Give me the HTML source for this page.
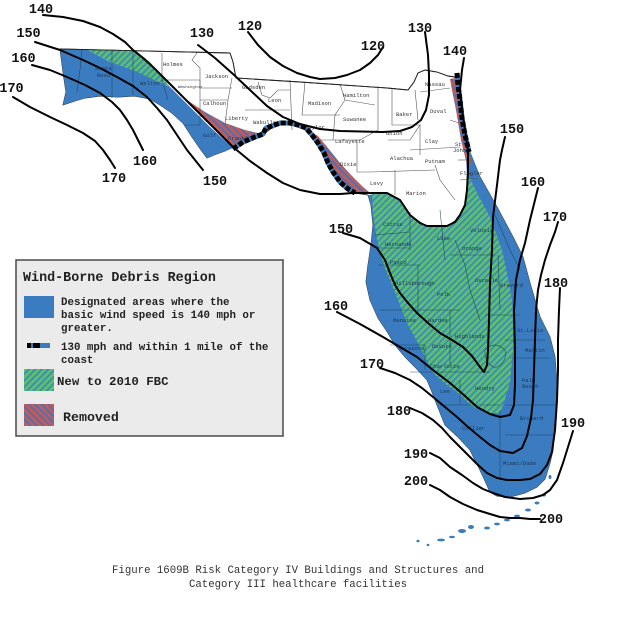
<!DOCTYPE html>
<html><head><meta charset="utf-8"><style>
html,body{margin:0;padding:0;background:#fff;}
svg{display:block;}
.lbl{font-family:"Liberation Mono",monospace;font-weight:bold;font-size:13.5px;fill:#111;}
.cty{font-family:"Liberation Mono",monospace;font-size:5.5px;fill:#333;}
.ctb{font-family:"Liberation Mono",monospace;font-size:5.5px;fill:#1d3550;}
.lg{font-family:"Liberation Mono",monospace;font-weight:bold;fill:#222;}
.cap{font-family:"Liberation Mono",monospace;font-size:10.7px;fill:#333;}
</style></head><body>
<svg width="623" height="625" viewBox="0 0 623 625" xmlns="http://www.w3.org/2000/svg">
<defs>
<pattern id="gh" patternUnits="userSpaceOnUse" width="4.6" height="4.6" patternTransform="rotate(45)">
<rect width="4.6" height="4.6" fill="#5ec268"/><rect width="2" height="4.6" fill="#3f8cb6"/></pattern>
<pattern id="rh" patternUnits="userSpaceOnUse" width="4.6" height="4.6" patternTransform="rotate(-45)">
<rect width="4.6" height="4.6" fill="#d2574c"/><rect width="2.3" height="4.6" fill="#5a6ea8"/></pattern>
</defs>
<rect width="623" height="625" fill="#fff"/>

<!-- Florida outline -->
<path d="M60,49 L230,53 L233,62 L236,78 L300,82 L387,88 L408,90 L414,82 L418,73 L425,70 L437,72 L448,76 L455,77 L458,95 L463,125 L469,150 L480,177 L497,207 L513,237 L523,257 L530,283 L540,317 L550,337 L555,357 L557,383 L556,400 L555,417 L553,450 L550,463 L545,479 L537,487 L525,493 L510,497 L497,496 L490,492 L486,483 L480,470 L470,450 L458,437 L445,425 L437,405 L432,392 L427,380 L415,367 L405,357 L395,345 L388,333 L378,318 L370,300 L366,282 L368,265 L371,245 L373,225 L371,205 L368,195 L355,193 L345,184 L335,170 L327,155 L318,141 L308,129 L297,125 L284,123 L274,126 L268,131 L258,136 L247,141 L236,146 L225,151 L214,155 L207,158 L201,150 L192,137 L183,123 L172,113 L160,105 L150,99 L135,96 L118,97 L100,96 L85,98 L75,101 L63,105 L66,92 L63,72 Z" fill="#fff" stroke="#333" stroke-width="0.9"/>

<!-- Blue panhandle -->
<path d="M60,49 L88,50 L110,62 L135,70 L155,80 L170,87 L190,107 L210,127 L233,148 L225,151 L214,155 L207,158 L201,150 L192,137 L183,123 L172,113 L160,105 L150,99 L135,96 L118,97 L100,96 L85,98 L75,101 L63,105 L66,92 L63,72 Z" fill="#3b7cc0"/>
<!-- Blue peninsula -->
<path d="M368,195 L387,193 L400,200 L410,215 L427,226 L447,226 L460,217 L466,200 L467,175 L466,160 L470,152 L480,177 L497,207 L513,237 L523,257 L530,283 L540,317 L550,337 L555,357 L557,383 L556,400 L555,417 L553,450 L550,463 L545,479 L537,487 L525,493 L510,497 L497,496 L490,492 L486,483 L480,470 L470,450 L458,437 L445,425 L437,405 L432,392 L427,380 L415,367 L405,357 L395,345 L388,333 L378,318 L370,300 L366,282 L368,265 L371,245 L373,225 L371,205 Z" fill="#3b7cc0"/>

<!-- Green -->
<path d="M88,50 L135,50 L150,62 L170,87 L155,80 L135,71 L110,62 Z" fill="url(#gh)"/>
<path d="M372,193 L387,193 L400,200 L410,215 L427,226 L447,226 L460,217 L466,200 L467,182 L470,178 L478,195 L490,217 L502,250 L507,273 L512,300 L513,327 L513,350 L510,383 L503,405 L500,413 L490,413 L473,407 L457,392 L447,385 L433,373 L420,347 L407,323 L398,300 L390,280 L383,263 L377,240 L373,213 Z" fill="url(#gh)"/>

<!-- Red -->
<path d="M187,100 L205,112 L225,123 L245,130 L262,134 L258,137 L247,141 L236,146 L233,148 L215,129 L200,114 Z" fill="url(#rh)"/>
<path d="M310,131 L318,136 L328,148 L340,163 L352,176 L362,186 L370,193 L355,193 L348,189 L340,182 L333,172 L328,163 L322,150 L314,138 Z" fill="url(#rh)"/>
<path d="M450,79 L456,78 L460,100 L464,125 L469,150 L472,165 L467,165 L461,140 L456,110 L452,90 Z" fill="url(#rh)"/>

<!-- County lines (white area) -->
<g fill="none" stroke="#555" stroke-width="0.6">
<path d="M162,53 L162,80 L200,80 L200,100"/>
<path d="M197,53 L192,60 L200,68 L200,88 L232,88"/>
<path d="M232,78 L228,100 L225,125"/>
<path d="M200,100 L228,100"/>
<path d="M258,82 L262,95 L270,98 L278,90 L290,90"/>
<path d="M245,110 L290,110"/>
<path d="M290,80 L292,130"/>
<path d="M305,82 L302,115 L340,115"/>
<path d="M340,84 L345,100 L335,115 L333,140 L315,140"/>
<path d="M345,100 L375,105"/>
<path d="M378,86 L378,130 L360,140 L333,140"/>
<path d="M392,88 L392,125 L420,125"/>
<path d="M415,90 L418,120"/>
<path d="M420,92 L450,88"/>
<path d="M388,140 L410,140 L420,125 L420,155"/>
<path d="M410,150 L460,147"/>
<path d="M450,120 L465,125"/>
<path d="M357,140 L357,172 L370,172 L435,170"/>
<path d="M395,170 L395,195"/>
<path d="M435,165 L440,180 L455,200"/>
<path d="M458,160 L472,160"/>
<path d="M460,180 L478,178"/>
</g>
<!-- County lines (colored area) -->
<g fill="none" stroke="#1f3f55" stroke-width="0.6" opacity="0.85">
<path d="M82,50 L80,70 L77,92"/>
<path d="M112,50 L112,98"/>
<path d="M133,51 L133,95"/>
<path d="M162,80 L168,100"/>
<path d="M200,100 L200,125 L185,125"/>
<path d="M375,235 L410,232"/>
<path d="M410,212 L410,250"/>
<path d="M440,210 L445,260"/>
<path d="M377,248 L410,248"/>
<path d="M378,265 L420,265"/>
<path d="M418,265 L418,315"/>
<path d="M455,240 L465,265 L470,290 L480,320"/>
<path d="M450,255 L495,255"/>
<path d="M498,255 L500,310"/>
<path d="M380,310 L460,310"/>
<path d="M450,310 L450,365"/>
<path d="M390,345 L425,345 L425,370"/>
<path d="M410,372 L490,372"/>
<path d="M485,315 L520,315"/>
<path d="M505,340 L545,340"/>
<path d="M510,358 L550,358"/>
<path d="M505,405 L555,405"/>
<path d="M505,435 L553,435"/>
<path d="M500,410 L500,480"/>
<path d="M440,405 L500,405"/>
<path d="M460,380 L460,405"/>
<path d="M485,350 Q495,340 505,350 Q508,362 495,368 Q484,362 485,350 Z"/>
<path d="M495,215 L510,250 L520,270"/>
</g>

<!-- county labels -->
<g class="cty">
<text x="163" y="66">Holmes</text><text x="205" y="78">Jackson</text><text x="178" y="88" font-size="4">Washington</text>
<text x="203" y="105">Calhoun</text><text x="225" y="120">Liberty</text><text x="242" y="89">Gadsden</text>
<text x="268" y="102">Leon</text><text x="253" y="124">Wakulla</text><text x="308" y="105">Madison</text>
<text x="305" y="129">Taylor</text><text x="343" y="97">Hamilton</text><text x="343" y="121">Suwanee</text>
<text x="335" y="143">Lafayette</text><text x="396" y="116">Baker</text><text x="425" y="86">Nassau</text>
<text x="430" y="113">Duval</text><text x="386" y="135">Union</text><text x="425" y="143">Clay</text>
<text x="455" y="146">St</text><text x="453" y="152">Johns</text><text x="390" y="160">Alachua</text>
<text x="425" y="163">Putnam</text><text x="340" y="166">Dixie</text><text x="370" y="185">Levy</text>
<text x="406" y="195">Marion</text><text x="460" y="175">Flagler</text>
</g>
<g class="ctb">
<text x="95" y="70">Santa</text><text x="97" y="77">Rosa</text><text x="140" y="85">Walton</text>
<text x="203" y="137">Gulf</text><text x="228" y="140">Franklin</text>
<text x="383" y="226">Citrus</text><text x="437" y="240">Lake</text><text x="470" y="232">Volusia</text>
<text x="462" y="250">Orange</text><text x="385" y="246">Hernando</text><text x="390" y="264">Pasco</text>
<text x="395" y="285">Hillsborough</text><text x="437" y="296">Polk</text><text x="475" y="282">Osceola</text>
<text x="500" y="287">Brevard</text><text x="393" y="322">Manatee</text><text x="428" y="322">Hardee</text>
<text x="455" y="338">Highlands</text><text x="398" y="350">Sarasota</text><text x="432" y="348">DeSoto</text>
<text x="430" y="368">Charlotte</text><text x="522" y="382">Palm</text><text x="522" y="388">Beach</text>
<text x="440" y="393">Lee</text><text x="475" y="390">Hendry</text><text x="462" y="430">Collier</text>
<text x="520" y="420">Broward</text><text x="503" y="465">Miami/Dade</text><text x="525" y="352">Martin</text>
<text x="517" y="332">St.Lucie</text>
</g>

<!-- outline re-stroke -->
<path d="M60,49 L230,53 L233,62 L236,78 L300,82 L387,88 L408,90 L414,82 L418,73 L425,70 L437,72 L448,76 L455,77" fill="none" stroke="#222" stroke-width="0.9"/>

<!-- dashed coast lines -->
<g fill="none" stroke-linejoin="round">
<path d="M233,149 L243,142 L255,137 L263,134 L266,128 L272,126 L280,123 L290,123 L298,125 L306,128 L312,135 L318,143 L324,153 L328,163 L333,172 L340,182 L348,189 L355,193" stroke="#3b7cc0" stroke-width="5"/>
<path d="M233,149 L243,142 L255,137 L263,134 L266,128 L272,126 L280,123 L290,123 L298,125 L306,128 L312,135 L318,143 L324,153 L328,163 L333,172 L340,182 L348,189 L355,193" stroke="#000" stroke-width="5" stroke-dasharray="5,2"/>
<path d="M457,73 L458,85 L460,100 L462,118 L465,135 L469,152" stroke="#3b7cc0" stroke-width="5"/>
<path d="M457,73 L458,85 L460,100 L462,118 L465,135 L469,152" stroke="#000" stroke-width="5" stroke-dasharray="5,2"/>
</g>

<!-- keys -->
<g fill="#3b7cc0">
<ellipse cx="418" cy="541" rx="1.6" ry="1.3"/><ellipse cx="428" cy="545" rx="1.4" ry="1.2"/>
<ellipse cx="441" cy="540" rx="4" ry="1.4"/><ellipse cx="452" cy="537" rx="3" ry="1.3"/>
<ellipse cx="462" cy="531" rx="4" ry="2"/><ellipse cx="471" cy="527" rx="3" ry="2"/>
<ellipse cx="487" cy="528" rx="3" ry="1.5"/><ellipse cx="497" cy="524" rx="3" ry="1.4"/>
<ellipse cx="507" cy="520" rx="3" ry="1.4"/><ellipse cx="517" cy="516" rx="3" ry="1.4"/>
<ellipse cx="528" cy="510" rx="3" ry="1.5"/><ellipse cx="537" cy="503" rx="2.5" ry="1.5"/>
<ellipse cx="544" cy="495" rx="2" ry="1.5"/><ellipse cx="550" cy="477" rx="1.5" ry="2"/>
</g>

<!-- contour lines -->
<g fill="none" stroke="#000" stroke-width="2" stroke-linejoin="round" stroke-linecap="round">
<polyline points="43,15 63,17 83,21 100,27 113,34 125,42 133,50 143,58 153,67 163,77 173,87 190,104 207,121 220,134 233,147 250,161 267,173 283,183 300,190 320,194 340,194 353,193 367,193 387,193 400,200 410,215 420,223 427,226 447,226 455,222 460,215 465,205 467,190 468,170 468,150 465,130 462,110 460,90 462,70 464,58"/>
<polyline points="198,45 215,58 233,74 250,90 267,106 283,117 300,124 320,129 340,131 383,132 400,131 412,127 421,120 426,110 429,95 429,75 428,55 425,32"/>
<polyline points="248,32 258,45 270,57 283,66 297,73 310,77 320,79 335,78 347,75 360,70 370,63 378,55 383,47"/>
<polyline points="35,42 60,50 83,60 100,68 117,77 133,86 147,97 157,108 167,120 177,135 187,150 195,160 203,170"/>
<polyline points="343,233 360,238 377,248 385,260 390,273 395,285 400,293 408,303 417,313 428,323 440,333 452,340 463,347 472,356 480,367 484,372 487,365 488,350 489,320 490,283 492,250 493,217 497,185 500,160 502,150 505,137"/>
<polyline points="32,65 50,70 67,77 85,85 100,93 112,102 120,110 127,120 133,130 138,140 143,150"/>
<polyline points="337,312 360,324 383,337 400,347 417,357 433,370 450,383 465,396 477,407 490,414 500,417 510,415 514,405 515,385 515,350 514,310 516,280 520,260 525,243 530,220 535,200 538,188"/>
<polyline points="13,97 30,107 50,117 67,125 83,133 95,141 103,150 110,160 115,168"/>
<polyline points="380,368 395,373 410,380 422,388 433,397 445,407 457,417 468,427 480,437 490,445 500,451 513,453 522,448 527,436 531,418 533,400 534,370 535,340 536,310 538,290 541,275 545,260 550,245 555,232 558,222"/>
<polyline points="410,408 422,413 433,420 442,428 450,437 460,447 470,457 478,465 487,473 497,478 507,480 520,480 530,479 540,474 547,465 552,452 555,430 557,400 558,370 558,340 559,310 560,288"/>
<polyline points="430,453 440,458 450,467 462,475 473,483 483,489 493,493 505,497 520,499 533,498 543,495 550,490 557,480 563,463 568,447 573,431"/>
<polyline points="430,485 440,490 450,497 463,504 477,510 490,514 500,517 510,518 520,518 530,519 540,519"/>
</g>

<!-- contour labels -->
<g class="lbl" text-anchor="middle">
<text x="41" y="13">140</text><text x="28.5" y="37">150</text><text x="23.5" y="62">160</text><text x="11.5" y="92">170</text>
<text x="202" y="37">130</text><text x="250" y="30">120</text><text x="373" y="50">120</text><text x="420" y="32">130</text>
<text x="455" y="55">140</text><text x="512" y="133">150</text><text x="533" y="186">160</text><text x="555" y="221">170</text>
<text x="556" y="287">180</text><text x="573" y="427">190</text><text x="551" y="523">200</text>
<text x="341" y="233">150</text><text x="336" y="310">160</text><text x="372" y="368">170</text><text x="399" y="415">180</text>
<text x="416" y="458">190</text><text x="416" y="485">200</text>
<text x="215" y="185">150</text><text x="145" y="165">160</text><text x="114" y="182">170</text>
</g>

<!-- legend -->
<rect x="16" y="260" width="267" height="176" fill="#ebebeb" stroke="#4a4a4a" stroke-width="1.5"/>
<text class="lg" x="23" y="281" font-size="13.4">Wind-Borne Debris Region</text>
<rect x="24" y="296" width="30" height="22" fill="#3b7cc0"/>
<text class="lg" x="61" y="305" font-size="10.8">Designated areas where the</text>
<text class="lg" x="61" y="318" font-size="10.8">basic wind speed is 140 mph or</text>
<text class="lg" x="61" y="331" font-size="10.8">greater.</text>
<rect x="27" y="343" width="4" height="5" fill="#000"/><rect x="31" y="343" width="2" height="5" fill="#3b7cc0"/>
<rect x="33" y="343" width="7" height="5" fill="#000"/><rect x="40" y="343" width="10" height="5" fill="#3b7cc0"/>
<text class="lg" x="61" y="350" font-size="10.8">130 mph and within 1 mile of the</text>
<text class="lg" x="61" y="363" font-size="10.8">coast</text>
<rect x="24" y="369" width="30" height="22" fill="url(#gh)"/>
<text class="lg" x="57" y="385" font-size="12.4">New to 2010 FBC</text>
<rect x="24" y="404" width="30" height="22" fill="url(#rh)"/>
<text class="lg" x="63" y="421" font-size="13.3">Removed</text>

<!-- caption -->
<text class="cap" x="298" y="573" text-anchor="middle">Figure 1609B Risk Category IV Buildings and Structures and</text>
<text class="cap" x="298" y="587" text-anchor="middle">Category III healthcare facilities</text>
</svg>
</body></html>
